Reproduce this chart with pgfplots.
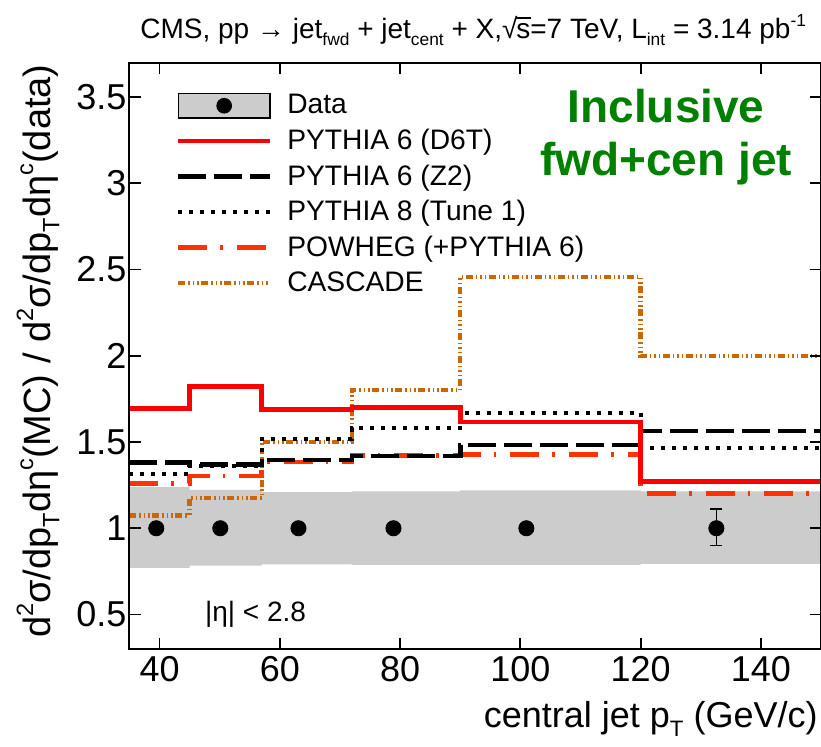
\documentclass[border=0pt]{standalone}
\usepackage{fontspec}
\setmainfont{Liberation Sans}
\usepackage{pgfplots}
\pgfplotsset{compat=1.18}
\definecolor{cred}{RGB}{255,0,0}
\definecolor{cpow}{RGB}{255,51,0}
\definecolor{ccas}{RGB}{204,102,0}
\definecolor{cband}{RGB}{204,204,204}
\definecolor{cgreen}{RGB}{0,128,0}
\newcommand{\lsub}[1]{\raisebox{-0.45ex}{\fontsize{0.62em}{1em}\selectfont #1}}
\newcommand{\lsup}[1]{\raisebox{0.85ex}{\fontsize{0.62em}{1em}\selectfont #1}}
\newlength{\rooth}
\newcommand{\sqrts}{\mbox{\settoheight{\rooth}{√}√\kern-0.04em\rlap{\rule[\dimexpr\rooth-0.065em\relax]{0.52em}{0.065em}}s}}
\begin{document}
\begin{tikzpicture}
\begin{axis}[
  scale only axis, width=345.75pt, height=293.2pt,
  xmin=35, xmax=150, ymin=0.3, ymax=3.7,
  axis on top, clip mode=individual,
  axis line style={line width=1pt},
  tick align=inside, major tick length=5.5pt,
  every tick/.style={black, line width=0.9pt},
  xtick={40,60,...,140}, ytick={0.5,1,1.5,2,2.5,3,3.5},
  minor tick num=0,
  /pgf/number format/assume math mode=true,
  tick label style={font=\fontsize{18}{21}\selectfont},
  yticklabel style={xshift=2pt},
  xlabel={central jet p\lsub{T} (GeV/c)},
  xlabel style={at={(rel axis cs:1,0)}, anchor=base east, yshift=-39.5pt, xshift=-1.5pt, inner sep=0pt, font=\fontsize{18}{21}\selectfont},
  ylabel={d\lsup{2}σ/dp\lsub{T}dη\lsup{c}(MC) / d\lsup{2}σ/dp\lsub{T}dη\lsup{c}(data)},
  ylabel style={at={(rel axis cs:0,0.508)}, anchor=center, yshift=45.75pt, inner sep=0pt, font=\fontsize{19}{22}\selectfont},
  legend cell align=left,
  legend style={draw=none, fill=none, at={(rel axis cs:0.0668,0.953)}, anchor=north west,
    font=\fontsize{14.1}{16}\selectfont, row sep=2.1pt, column sep=2.3pt, inner sep=0pt,
    nodes={inner xsep=5pt}},
  legend image code/.code={\draw (0pt,0pt) -- (46pt,0pt);},
]
\addlegendimage{legend image code/.code={\draw[fill=cband, line width=0.6pt] (0pt,-6.1pt) rectangle (45.8pt,6.1pt); \fill[black] (22.9pt,0pt) circle (3.7pt);}}
\addlegendentry{Data}
\addlegendimage{cred, line width=2.3pt}
\addlegendentry{PYTHIA 6 (D6T)}
\addlegendimage{black, line width=2.3pt, dash pattern=on 14pt off 4pt}
\addlegendentry{PYTHIA 6 (Z2)}
\addlegendimage{black, line width=2pt, dash pattern=on 2pt off 3.5pt}
\addlegendentry{PYTHIA 8 (Tune 1)}
\addlegendimage{cpow, line width=2.3pt, dash pattern=on 14.5pt off 6.5pt on 1.3pt off 7pt}
\addlegendentry{POWHEG (+PYTHIA 6)}
\addlegendimage{ccas, line width=2.2pt, dash pattern=on 3.5pt off 1.5pt on 0.75pt off 1.5pt on 0.75pt off 1.5pt on 0.75pt off 1.25pt}
\addlegendentry{CASCADE}

% systematic band of the data
\addplot[fill=cband, draw=none, forget plot] coordinates {
 (35,0.770) (35,1.239) (45,1.239) (45,1.222) (57,1.222) (57,1.209) (72,1.209) (72,1.214)
 (90,1.214) (90,1.220) (120,1.220) (120,1.214) (150,1.214) (150,0.794) (120,0.794)
 (120,0.788) (90,0.788) (72,0.788) (72,0.790) (57,0.790) (57,0.784) (45,0.784) (45,0.770)};

% CASCADE
\addplot[ccas, line width=2.2pt, const plot mark left, forget plot,
  dash pattern=on 3.5pt off 1.5pt on 0.75pt off 1.5pt on 0.75pt off 1.5pt on 0.75pt off 1.25pt]
 coordinates {(35,1.075) (45,1.176) (57,1.500) (72,1.801) (90,2.458) (120,1.998) (150,1.998)};
% POWHEG
\addplot[cpow, line width=2.3pt, const plot mark left, forget plot,
  dash pattern=on 14.5pt off 6.5pt on 1.3pt off 7pt]
 coordinates {(35,1.259) (45,1.303) (57,1.385) (72,1.423) (90,1.429) (120,1.203) (150,1.203)};
% PYTHIA 8
\addplot[black, line width=2pt, const plot mark left, forget plot, dash pattern=on 2pt off 3.5pt]
 coordinates {(35,1.317) (45,1.362) (57,1.516) (72,1.579) (90,1.670) (120,1.468) (150,1.468)};
% PYTHIA 6 Z2
\addplot[black, line width=2.3pt, const plot mark left, forget plot, dash pattern=on 14pt off 4pt]
 coordinates {(35,1.381) (45,1.371) (57,1.396) (72,1.419) (90,1.483) (120,1.564) (150,1.564)};
% PYTHIA 6 D6T
\addplot[cred, line width=2.3pt, const plot mark left, forget plot]
 coordinates {(35,1.693) (45,1.821) (57,1.689) (72,1.701) (90,1.616) (120,1.271) (150,1.271)};

% Data
\addplot[black, only marks, mark=*, mark size=3.8pt, forget plot,
  error bars/.cd, y dir=both, y explicit,
  error bar style={line width=0.8pt}, error mark options={rotate=90, mark size=3pt, line width=0.8pt}]
 coordinates {(39.45,1) +- (0,0.005) (50.1,1) +- (0,0.005) (63.1,1) +- (0,0.005)
  (78.9,1) +- (0,0.008) (101.0,1) +- (0,0.02) (132.6,1) += (0,0.11) -= (0,0.10)};

\node[cgreen, font=\fontsize{23}{26.5}\selectfont\bfseries, align=center, inner sep=0pt]
  at (rel axis cs:0.776,0.873) {Inclusive\\fwd+cen jet};
\node[font=\fontsize{14}{16}\selectfont, anchor=west, inner sep=0pt] at (axis cs:47.5,0.5) {|η| < 2.8};
\node[anchor=base west, font=\fontsize{14}{16}\selectfont, inner sep=0pt] at (rel axis cs:0.0152,1) [yshift=11.8pt]
  {CMS, pp → jet\lsub{fwd} + jet\lsub{cent} + X,\sqrts=7 TeV, L\lsub{int} = 3.14 pb\lsup{-1}};
\end{axis}
\pgfresetboundingbox
\useasboundingbox (-64.75pt,-49pt) rectangle (345.75pt,324.5pt);
\end{tikzpicture}
\end{document}
